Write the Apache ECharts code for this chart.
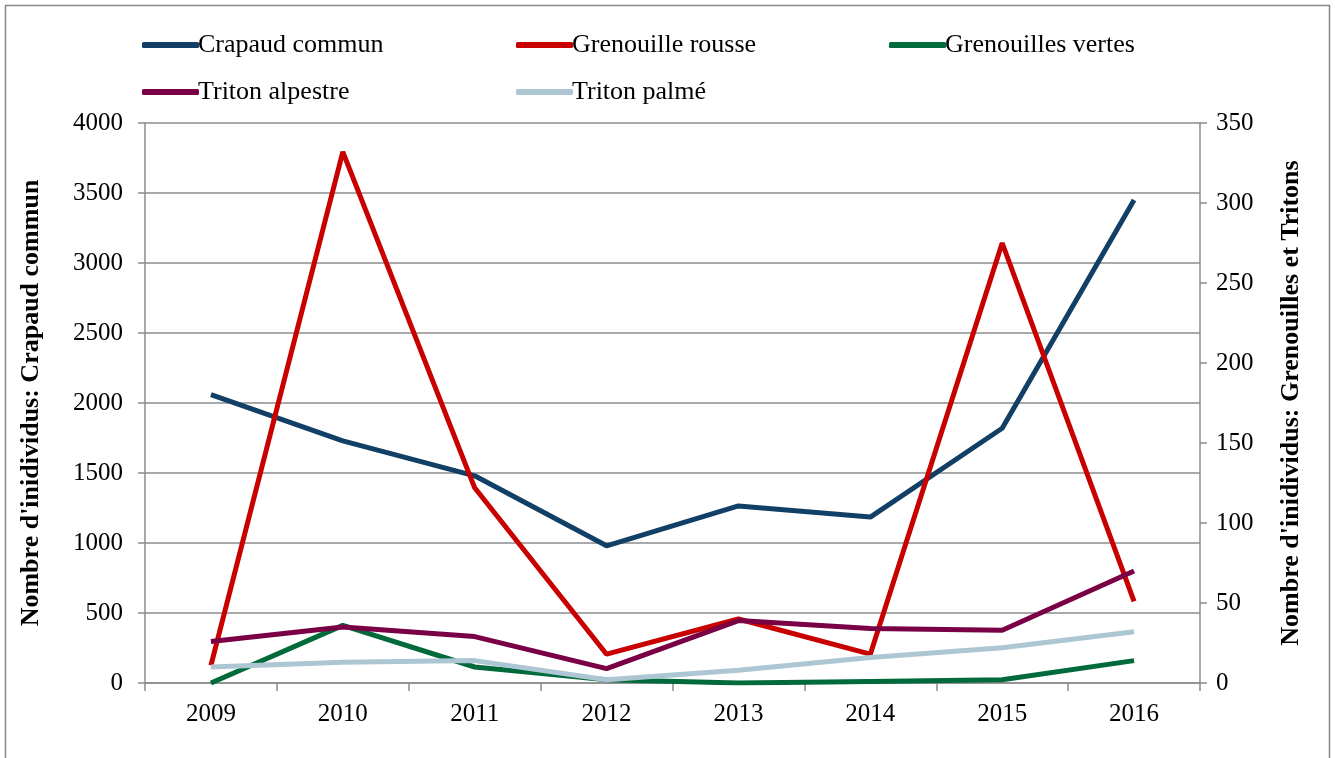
<!DOCTYPE html>
<html>
<head>
<meta charset="utf-8">
<script src="https://cdn.jsdelivr.net/npm/echarts@6/dist/echarts.min.js"></script>
<style>
  html, body { margin: 0; padding: 0; background: #fff; }
  #main { width: 1335px; height: 758px; }
</style>
</head>
<body>
<div id="main"></div>
<script>
var years = ['2009', '2010', '2011', '2012', '2013', '2014', '2015', '2016'];
var crapaudCommun = [2060, 1730, 1480, 980, 1265, 1185, 1820, 3450];
var grenouilleRousse = [11, 332, 122, 18, 40, 18, 275, 51];
var grenouillesVertes = [0, 36, 10, 2, 0, 1, 2, 14];
var tritonAlpestre = [26, 35, 29, 9, 39, 34, 33, 70];
var tritonPalme = [10, 13, 14, 2, 8, 16, 22, 32];

var font = 'Liberation Serif, Times New Roman, serif';
var gray = '#8c8c8c';

function legendAt(name, left, top) {
  return {
    data: [name],
    left: left,
    top: top,
    itemWidth: 57,
    itemHeight: 6,
    itemGap: 0,
    icon: 'roundRect',
    textStyle: { fontFamily: font, fontSize: 26, color: '#000', padding: [0, 0, 0, -6] }
  };
}

function lineSeries(name, color, data, axis) {
  return {
    name: name,
    type: 'line',
    yAxisIndex: axis,
    data: data,
    symbol: 'none',
    lineStyle: { color: color, width: 5 },
    itemStyle: { color: color }
  };
}

function plain(v) { return String(v); }

var option = {
  animation: false,
  graphic: [{
    type: 'rect',
    shape: { x: 5.5, y: 5.5, width: 1324, height: 800 },
    style: { fill: null, stroke: '#888', lineWidth: 1.5 },
    silent: true
  }],
  legend: [
    legendAt('Crapaud commun', 137, 27),
    legendAt('Grenouille rousse', 511, 27),
    legendAt('Grenouilles vertes', 884, 27),
    legendAt('Triton alpestre', 137, 74),
    legendAt('Triton palmé', 511, 74)
  ],
  grid: { left: 145, right: 135, top: 123, bottom: 75 },
  xAxis: {
    type: 'category',
    data: years,
    boundaryGap: true,
    axisLine: { lineStyle: { color: gray, width: 1.5 } },
    axisTick: { show: true, length: 8, lineStyle: { color: gray, width: 1.5 } },
    axisLabel: { color: '#000', fontFamily: font, fontSize: 25, margin: 19 }
  },
  yAxis: [{
    type: 'value',
    min: 0,
    max: 4000,
    interval: 500,
    name: "Nombre d'inidividus: Crapaud commun",
    nameLocation: 'middle',
    nameRotate: 90,
    nameGap: 101,
    nameTextStyle: { fontFamily: font, fontSize: 26, fontWeight: 'bold', color: '#000' },
    axisLine: { show: true, lineStyle: { color: gray, width: 1.5 } },
    axisTick: { show: true, length: 7, lineStyle: { color: gray, width: 1.5 } },
    axisLabel: { color: '#000', fontFamily: font, fontSize: 25, margin: 22, formatter: plain },
    splitLine: { show: true, lineStyle: { color: gray, width: 1.5 } }
  }, {
    type: 'value',
    min: 0,
    max: 350,
    interval: 50,
    position: 'right',
    name: "Nombre d'inidividus: Grenouilles et Tritons",
    nameLocation: 'middle',
    nameRotate: 90,
    nameGap: 78,
    nameTextStyle: { fontFamily: font, fontSize: 26, fontWeight: 'bold', color: '#000' },
    axisLine: { show: true, lineStyle: { color: gray, width: 1.5 } },
    axisTick: { show: true, length: 7, lineStyle: { color: gray, width: 1.5 } },
    axisLabel: { color: '#000', fontFamily: font, fontSize: 25, margin: 16, formatter: plain },
    splitLine: { show: false }
  }],
  series: [
    lineSeries('Crapaud commun', '#123f65', crapaudCommun, 0),
    lineSeries('Grenouille rousse', '#c80000', grenouilleRousse, 1),
    lineSeries('Grenouilles vertes', '#006a3b', grenouillesVertes, 1),
    lineSeries('Triton alpestre', '#7a0046', tritonAlpestre, 1),
    lineSeries('Triton palmé', '#adc6d3', tritonPalme, 1)
  ]
};

var myChart = echarts.init(document.getElementById('main'));
myChart.setOption(option);
</script>
</body>
</html>
